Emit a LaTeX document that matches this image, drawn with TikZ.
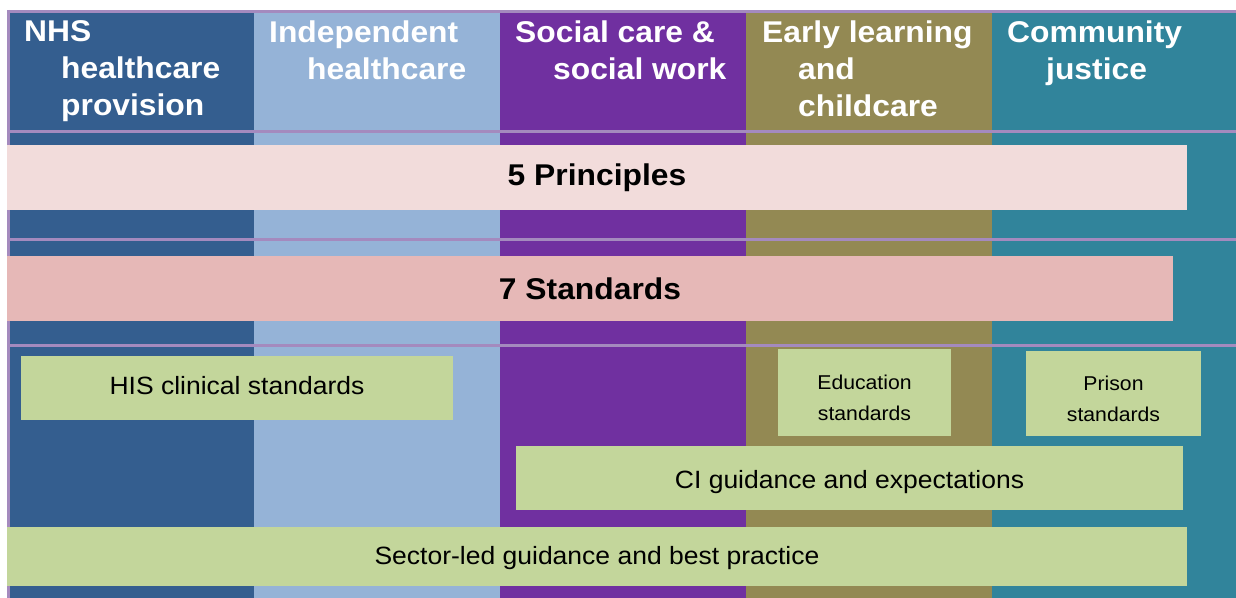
\documentclass[tikz,border=0pt]{standalone}
\usepackage{fontspec}
\setmainfont{Liberation Sans}[FakeStretch=1.06]
\definecolor{colNHS}{RGB}{52,94,143}
\definecolor{colInd}{RGB}{149,179,215}
\definecolor{colSoc}{RGB}{112,48,160}
\definecolor{colEarly}{RGB}{147,137,83}
\definecolor{colCom}{RGB}{49,132,155}
\definecolor{sepline}{RGB}{164,138,190}
\definecolor{pinkA}{RGB}{242,220,219}
\definecolor{pinkB}{RGB}{230,184,183}
\definecolor{greenbox}{RGB}{195,214,155}
\begin{document}
\begin{tikzpicture}[x=1bp,y=-1bp,
  sepl/.style={draw=sepline,line width=3bp},
  heading/.style={anchor=north west,inner sep=0pt,align=left,text=white,
    font=\fontsize{30bp}{37bp}\selectfont\bfseries},
  bigbar/.style={inner sep=0pt,font=\fontsize{30bp}{37bp}\selectfont\bfseries,text=black},
  greenbar/.style={fill=greenbox,inner sep=0pt},
  midtext/.style={inner sep=0pt,font=\fontsize{25bp}{30bp}\selectfont,text=black},
  smalltext/.style={inner sep=0pt,align=center,font=\fontsize{20bp}{31bp}\selectfont,text=black}]
\useasboundingbox (0,0) rectangle (1236,598);
% columns
\fill[colNHS] (9,12) rectangle (254,598);
\fill[colInd] (254,12) rectangle (500,598);
\fill[colSoc] (500,12) rectangle (746,598);
\fill[colEarly] (746,12) rectangle (992,598);
\fill[colCom] (992,12) rectangle (1236,598);
% separator lines
\draw[sepl] (7,11.5) -- (1236,11.5);
\draw[sepl] (8.5,10) -- (8.5,598);
\draw[sepl] (8.5,131.5) -- (1236,131.5);
\draw[sepl] (8.5,239.5) -- (1236,239.5);
\draw[sepl] (8.5,345.5) -- (1236,345.5);
% headings
\node[heading] (hNHS) at (24,20.5) {NHS\\\hspace*{37bp}healthcare\\\hspace*{37bp}provision};
\node[heading] (hInd) at (269,20.5) {Independent\\\hspace*{38bp}healthcare};
\node[heading] (hSoc) at (515,20.5) {Social care \&\\\hspace*{38bp}social work};
\node[heading] (hEarly) at (762,20.5) {Early learning\\\hspace*{36bp}and\\\hspace*{36bp}childcare};
\node[heading] (hCom) at (1007,20.5) {Community\\\hspace*{39bp}justice};
% bars
\node[bigbar,fill=pinkA,minimum width=1180bp,minimum height=65bp] (p5) at (597,177.5) {5 Principles};
\node[bigbar,fill=pinkB,minimum width=1166bp,minimum height=65bp] (s7) at (590,288.5) {7 Standards};
\node[greenbar,minimum width=432bp,minimum height=64bp,
  label={[midtext,yshift=2bp]center:HIS clinical standards}] (his) at (237,388) {};
\node[greenbar,minimum width=173bp,minimum height=87bp,
  label={[smalltext,yshift=-5bp]center:Education\\standards}] (edu) at (864.5,392.5) {};
\node[greenbar,minimum width=175bp,minimum height=85bp,
  label={[smalltext,yshift=-5.5bp]center:Prison\\standards}] (pri) at (1113.5,393.5) {};
\node[greenbar,minimum width=667bp,minimum height=64bp,
  label={[midtext,yshift=-4bp]center:CI guidance and expectations}] (ci) at (849.5,478) {};
\node[greenbar,minimum width=1180bp,minimum height=59bp,
  label={[midtext,yshift=-2bp]center:Sector-led guidance and best practice}] (sec) at (597,556.5) {};
\end{tikzpicture}
\end{document}
